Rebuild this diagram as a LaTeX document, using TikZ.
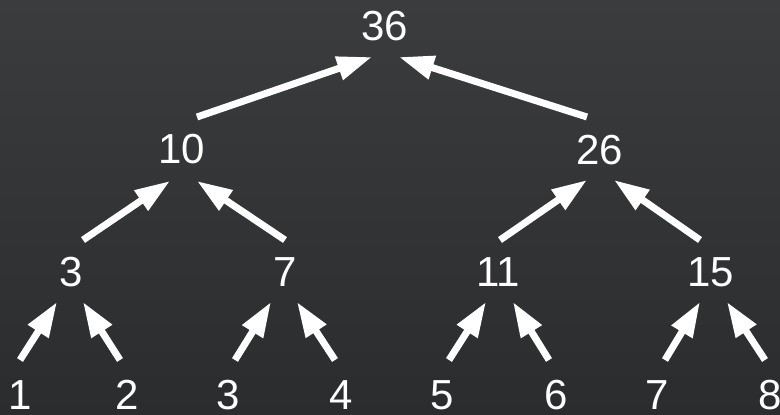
\documentclass[tikz,border=0pt]{standalone}
\usepackage{fontspec}
\setmainfont{Liberation Sans}
\usetikzlibrary{arrows.meta,calc}
\definecolor{bgtop}{HTML}{3B3C3E}
\definecolor{bgbot}{HTML}{2B2C2E}
\begin{document}
\begin{tikzpicture}[x=1pt,y=-1pt,
  num/.style={text=white,inner sep=0pt,font=\fontsize{42}{42}\selectfont},
  sumarrow/.style={draw=white,line width=7pt,line cap=butt,
    -{Triangle[length=35pt,width=23pt]}}]
  % backdrop
  \shade[top color=bgtop,bottom color=bgbot] (0,0) rectangle (780,415);
  \useasboundingbox (0,0) rectangle (780,415);

  % tree of partial sums
  \node[num] (r)   at (385,26)  {36};
  \node[num] (a)   at (182,149) {10};
  \node[num] (b)   at (600,150) {26};
  \node[num] (c3)  at (71,272)  {3};
  \node[num] (c7)  at (285,272) {7};
  \node[num] (c11) at (498,272) {11};
  \node[num] (c15) at (711,272) {15};
  \node[num] (l1)  at (20,395)  {1};
  \node[num] (l2)  at (127,395) {2};
  \node[num] (l3)  at (228,395) {3};
  \node[num] (l4)  at (341,395) {4};
  \node[num] (l5)  at (442,395) {5};
  \node[num] (l6)  at (556,395) {6};
  \node[num] (l7)  at (657,395) {7};
  \node[num] (l8)  at (770,395) {8};

  % leaves to first level
  \draw[sumarrow] ($(l1)+(0,-35)$)  -- ($(c3)+(-14,30)$);
  \draw[sumarrow] ($(l2)+(-7,-35)$) -- ($(c3)+(12,30)$);
  \draw[sumarrow] ($(l3)+(7,-35)$)  -- ($(c7)+(-14,30)$);
  \draw[sumarrow] ($(l4)+(-6,-35)$) -- ($(c7)+(12,30)$);
  \draw[sumarrow] ($(l5)+(7,-35)$)  -- ($(c11)+(-12,30)$);
  \draw[sumarrow] ($(l6)+(-7,-35)$) -- ($(c11)+(15,30)$);
  \draw[sumarrow] ($(l7)+(8,-35)$)  -- ($(c15)+(-11,30)$);
  \draw[sumarrow] ($(l8)+(-5,-35)$) -- ($(c15)+(16,30)$);

  % first level to second level
  \draw[sumarrow] ($(c3)+(12,-32)$)  -- ($(a)+(-12,32)$);
  \draw[sumarrow] ($(c7)+(0,-32)$)   -- ($(a)+(15,32)$);
  \draw[sumarrow] ($(c11)+(2,-32)$)  -- ($(b)+(-13,30)$);
  \draw[sumarrow] ($(c15)+(-11,-32)$) -- ($(b)+(14,30)$);

  % second level to root
  \draw[sumarrow] ($(a)+(15,-32)$)  -- ($(r)+(-13,31)$);
  \draw[sumarrow] ($(b)+(-13,-33)$) -- ($(r)+(14,31)$);
\end{tikzpicture}
\end{document}
